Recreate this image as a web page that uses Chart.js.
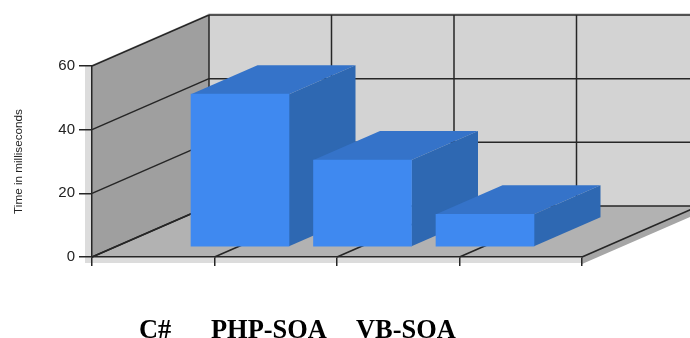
<!DOCTYPE html>
<html>
<head>
<meta charset="utf-8">
<title>Time in milliseconds</title>
<script src="https://cdn.jsdelivr.net/npm/chart.js@4"></script>
<style>
  html, body { margin: 0; padding: 0; background: #fff; overflow: hidden; }
  #wrap { position: relative; width: 690px; height: 338px; overflow: hidden; }
  #chart { position: absolute; left: 0; top: 0; }
  .cat {
    position: absolute;
    top: 314px;
    font: bold 26.4px "Liberation Serif", serif;
    line-height: 30px;
    color: #000;
    white-space: nowrap;
  }
</style>
</head>
<body>
<div id="wrap"><canvas id="chart" width="690" height="338"></canvas></div>
<script>
const categories = ["C#", "PHP-SOA", "VB-SOA"];
const timeValues = [48, 27.3, 10.3];
const yTicks = [0, 20, 40, 60];

// the category names sit in a row under the image, not under the ticks
const labelLeft = [139, 211, 356];

// projection of the box
const wallDepth = { x: 117, y: -51 };
const barDepth = { x: 66.5, y: -29 };
const barShift = { x: 25.5, y: -10 };

const lineColor = "#262626";

function poly(ctx, points, color) {
  ctx.fillStyle = color;
  ctx.beginPath();
  points.forEach((p, i) => {
    if (i === 0) ctx.moveTo(p[0], p[1]);
    else ctx.lineTo(p[0], p[1]);
  });
  ctx.closePath();
  ctx.fill();
}

function line(ctx, x1, y1, x2, y2) {
  ctx.beginPath();
  ctx.moveTo(x1, y1);
  ctx.lineTo(x2, y2);
  ctx.stroke();
}

const boxPlugin = {
  id: "box3d",
  beforeDraw(chart) {
    const ctx = chart.ctx;
    const area = chart.chartArea;
    const dx = wallDepth.x, dy = wallDepth.y;
    const l = area.left, r = area.right, t = area.top, b = area.bottom;

    ctx.save();
    // thin outer edges of the box
    poly(ctx, [[l - 7, t], [l, t], [l, b + 6], [l - 7, b + 6]], "#dcdcdc");
    poly(ctx, [[l - 7, b], [r, b], [r, b + 6], [l - 7, b + 6]], "#dcdcdc");
    poly(ctx, [[r, b], [r + dx, b + dy], [r + dx, b + dy + 7], [r, b + 7]], "#a6a6a6");
    poly(ctx, [[l - 3, t], [l + dx - 3, t + dy], [l + dx, t + dy - 2], [r + dx, t + dy - 2], [r + dx, t + dy], [l + dx, t + dy], [l, t]], "#d8d8d8");

    // walls and floor
    poly(ctx, [[l, t], [l + dx, t + dy], [l + dx, b + dy], [l, b]], "#9f9f9f");
    poly(ctx, [[l + dx, t + dy], [r + dx, t + dy], [r + dx, b + dy], [l + dx, b + dy]], "#d3d3d3");
    poly(ctx, [[l, b], [r, b], [r + dx, b + dy], [l + dx, b + dy]], "#b2b2b2");

    // grid runs round the walls, taken from the scales
    ctx.strokeStyle = lineColor;
    ctx.lineWidth = 1.5;
    const yScale = chart.scales.y;
    yScale.ticks.forEach((tick, i) => {
      const py = yScale.getPixelForTick(i);
      line(ctx, l, py, l + dx, py + dy);
      line(ctx, l + dx, py + dy, r + dx, py + dy);
    });
    const xScale = chart.scales.x;
    xScale.ticks.forEach((tick, i) => {
      const px = xScale.getPixelForTick(i);
      line(ctx, px, b, px + dx, b + dy);
      line(ctx, px + dx, b + dy, px + dx, t + dy);
    });
    ctx.restore();
  },
  beforeDatasetDraw(chart, args) {
    const ctx = chart.ctx;
    const dx = barDepth.x, dy = barDepth.y;
    ctx.save();
    ctx.translate(barShift.x, barShift.y);
    args.meta.data.forEach((bar, i) => {
      if (args.meta._parsed[i].y == null) return;
      const left = bar.x - bar.width / 2;
      const right = bar.x + bar.width / 2;
      poly(ctx, [[left, bar.y], [right, bar.y], [right + dx, bar.y + dy], [left + dx, bar.y + dy]], "#3573c9");
      poly(ctx, [[right, bar.y], [right + dx, bar.y + dy], [right + dx, bar.base + dy], [right, bar.base]], "#2e68b2");
    });
    // the fronts are drawn by the library inside this translate
  },
  afterDatasetDraw(chart) {
    chart.ctx.restore();
  }
};

new Chart(document.getElementById("chart"), {
  type: "bar",
  data: {
    labels: ["", ...categories, ""],
    datasets: [{
      data: [null, ...timeValues, null],
      backgroundColor: "#3f89f0",
      barThickness: 98,
      clip: false
    }]
  },
  plugins: [boxPlugin],
  options: {
    responsive: false,
    animation: false,
    layout: { padding: { left: 0, right: 108, top: 66, bottom: 72 } },
    plugins: {
      legend: { display: false },
      tooltip: { enabled: false }
    },
    scales: {
      x: {
        offset: false,
        grid: { offset: false, drawOnChartArea: false, color: lineColor, tickLength: 9, lineWidth: 1.5 },
        border: { color: lineColor, width: 1.5 },
        ticks: { display: false, autoSkip: false },
        afterFit(scale) { scale.height = 9; }
      },
      y: {
        min: 0,
        max: 60,
        afterBuildTicks(scale) { scale.ticks = yTicks.map(v => ({ value: v })); },
        grid: { drawOnChartArea: false, color: lineColor, tickLength: 13, lineWidth: 1.5 },
        border: { color: lineColor, width: 1.5 },
        ticks: {
          padding: 4,
          color: "#222",
          font: { family: "'Liberation Sans', Arial, sans-serif", size: 15 }
        },
        title: {
          display: true,
          text: "Time in milliseconds",
          color: "#222",
          font: { family: "'Liberation Sans', Arial, sans-serif", size: 11.7 },
          padding: { top: 12, bottom: 0 }
        },
        afterFit(scale) { scale.width = 92; }
      }
    }
  }
});

categories.forEach((name, i) => {
  const span = document.createElement("span");
  span.className = "cat";
  span.style.left = labelLeft[i] + "px";
  span.textContent = name;
  document.getElementById("wrap").appendChild(span);
});
</script>
</body>
</html>
